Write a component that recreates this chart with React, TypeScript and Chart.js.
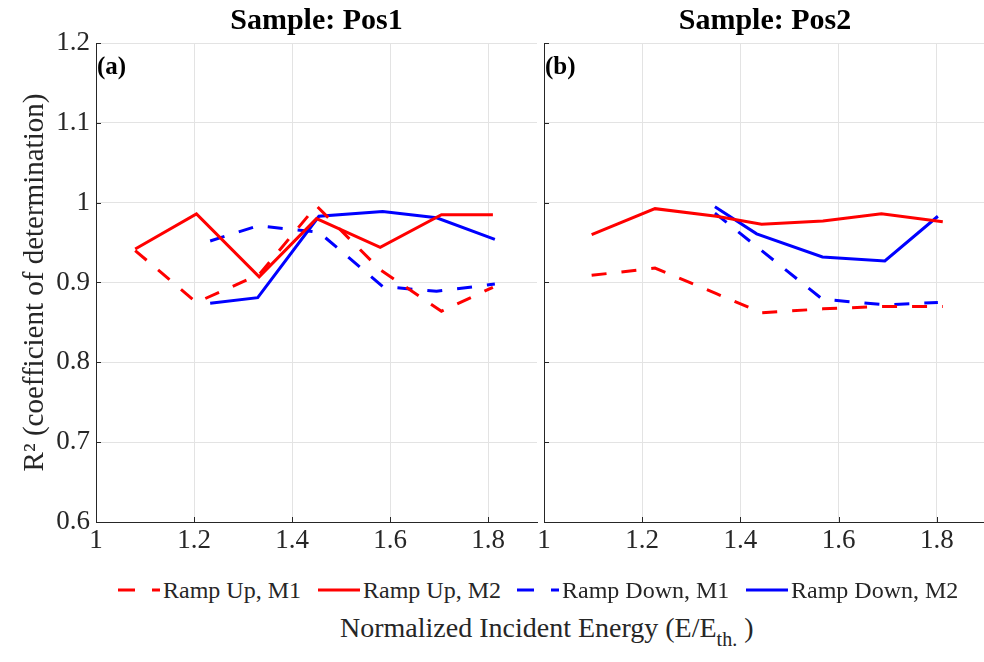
import React, { useEffect, useRef } from 'react';
import { Chart, registerables } from 'chart.js';

Chart.register(...registerables);

const FONT = '"Liberation Serif", "Times New Roman", Times, serif';

// ---- axes ----
const xTicks = [1, 1.2, 1.4, 1.6, 1.8];
const xTickLabels = ['1', '1.2', '1.4', '1.6', '1.8'];
const yTicks = [0.6, 0.7, 0.8, 0.9, 1, 1.1, 1.2];
const yTickLabels = ['0.6', '0.7', '0.8', '0.9', '1', '1.1', '1.2'];
const X_MIN = 1;
const X_MAX = 1.9;
const Y_MIN = 0.6;
const Y_MAX = 1.2;

// ---- text ----
const panelTitles = ['Sample: Pos1', 'Sample: Pos2'];
const panelTags = ['(a)', '(b)'];
const seriesNames = ['Ramp Up, M1', 'Ramp Up, M2', 'Ramp Down, M1', 'Ramp Down, M2'];
const seriesColors = ['#ff0000', '#ff0000', '#0000ff', '#0000ff'];
const seriesDashed = [true, false, true, false];
const yAxisTitle = 'R\u00B2 (coefficient of determination)';
const xAxisTitleMain = 'Normalized Incident Energy (E/E';
const xAxisTitleSub = 'th.';
const xAxisTitleEnd = ' )';

// ---- data: Sample Pos1 ----
const pos1UpX = [1.08, 1.205, 1.333, 1.45, 1.58, 1.705, 1.81];
const pos1UpM1 = [0.94, 0.875, 0.91, 0.996, 0.916, 0.864, 0.894];
const pos1UpM2 = [0.942, 0.986, 0.907, 0.98, 0.944, 0.985, 0.985];
const pos1DownX = [1.233, 1.33, 1.455, 1.585, 1.695, 1.814];
const pos1DownM1 = [0.952, 0.971, 0.963, 0.895, 0.889, 0.898];
const pos1DownM2 = [0.874, 0.881, 0.983, 0.989, 0.981, 0.954];

// ---- data: Sample Pos2 ----
const pos2UpX = [1.097, 1.226, 1.351, 1.443, 1.568, 1.687, 1.812];
const pos2UpM1 = [0.909, 0.918, 0.886, 0.862, 0.867, 0.87, 0.87];
const pos2UpM2 = [0.96, 0.9925, 0.983, 0.973, 0.977, 0.986, 0.976];
const pos2DownX = [1.348, 1.433, 1.567, 1.694, 1.802];
const pos2DownM1 = [0.987, 0.945, 0.879, 0.872, 0.875];
const pos2DownM2 = [0.995, 0.961, 0.932, 0.927, 0.983];

const panelSeries = [
  [
    [pos1UpX, pos1UpM1],
    [pos1UpX, pos1UpM2],
    [pos1DownX, pos1DownM1],
    [pos1DownX, pos1DownM2],
  ],
  [
    [pos2UpX, pos2UpM1],
    [pos2UpX, pos2UpM2],
    [pos2DownX, pos2DownM1],
    [pos2DownX, pos2DownM2],
  ],
];

const AXIS_COLOR = '#262626';
const GRID_COLOR = '#e3e3e3';
const DASH = [15, 15];

const decorPlugin = {
  id: 'decor',
  beforeDatasetsDraw(chart: any) {
    const { ctx, chartArea, scales } = chart;
    ctx.save();
    ctx.strokeStyle = AXIS_COLOR;
    ctx.lineWidth = 1;
    ctx.beginPath();
    xTicks.forEach((v) => {
      const px = Math.round(scales.x.getPixelForValue(v)) + 0.5;
      ctx.moveTo(px, chartArea.bottom);
      ctx.lineTo(px, chartArea.bottom - 5);
    });
    yTicks.forEach((v) => {
      const py = Math.round(scales.y.getPixelForValue(v)) + 0.5;
      ctx.moveTo(chartArea.left, py);
      ctx.lineTo(chartArea.left + 5, py);
    });
    ctx.stroke();
    ctx.restore();
  },
  afterDraw(chart: any, _args: any, opts: any) {
    const { ctx, chartArea } = chart;
    ctx.save();
    ctx.fillStyle = '#000';
    ctx.font = `bold 30px ${FONT}`;
    ctx.textAlign = 'center';
    ctx.textBaseline = 'alphabetic';
    ctx.fillText(opts.title, (chartArea.left + chartArea.right) / 2, 29);
    ctx.font = `bold 25px ${FONT}`;
    ctx.textAlign = 'left';
    ctx.fillText(opts.tag, chartArea.left + 1, chartArea.top + 31);
    ctx.restore();
  },
};

function makeConfig(panel: number, yAxisWidth: number, paddingRight: number, showYLabels: boolean): any {
  const datasets = panelSeries[panel].map(([xs, ys], i) => ({
    label: seriesNames[i],
    data: xs.map((x, j) => ({ x, y: ys[j] })),
    borderColor: seriesColors[i],
    backgroundColor: seriesColors[i],
    borderWidth: 3,
    borderDash: seriesDashed[i] ? DASH : [],
    pointRadius: 0,
    tension: 0,
    fill: false,
  }));
  return {
    type: 'line',
    data: { datasets },
    plugins: [decorPlugin],
    options: {
      animation: false,
      responsive: false,
      devicePixelRatio: 1,
      layout: { padding: { top: 43, right: paddingRight, left: 0, bottom: 0 } },
      plugins: {
        legend: { display: false },
        tooltip: { enabled: false },
        decor: { title: panelTitles[panel], tag: panelTags[panel] },
      },
      scales: {
        x: {
          type: 'linear',
          min: X_MIN,
          max: X_MAX,
          afterBuildTicks: (scale: any) => {
            scale.ticks = xTicks.map((v) => ({ value: v }));
          },
          afterFit: (scale: any) => {
            scale.height = 38;
          },
          ticks: {
            callback: (v: number) => {
              const i = xTicks.findIndex((t) => Math.abs(t - v) < 1e-6);
              return i >= 0 ? xTickLabels[i] : '';
            },
            font: { family: FONT, size: 27 },
            color: AXIS_COLOR,
            padding: 3,
            maxRotation: 0,
            autoSkip: false,
          },
          grid: { color: GRID_COLOR, drawTicks: false },
          border: { color: AXIS_COLOR, width: 1 },
        },
        y: {
          type: 'linear',
          min: Y_MIN,
          max: Y_MAX,
          afterBuildTicks: (scale: any) => {
            scale.ticks = yTicks.map((v) => ({ value: v }));
          },
          afterFit: (scale: any) => {
            scale.width = yAxisWidth;
          },
          ticks: {
            display: showYLabels,
            callback: (v: number) => {
              const i = yTicks.findIndex((t) => Math.abs(t - v) < 1e-6);
              return i >= 0 ? yTickLabels[i] : '';
            },
            font: { family: FONT, size: 27 },
            color: AXIS_COLOR,
            padding: 6,
            autoSkip: false,
          },
          title: {
            display: showYLabels,
            text: yAxisTitle,
            font: { family: FONT, size: 29 },
            color: AXIS_COLOR,
            padding: { top: 18, bottom: 0 },
          },
          grid: { color: GRID_COLOR, drawTicks: false },
          border: { color: AXIS_COLOR, width: 1 },
        },
      },
    },
  };
}

function Swatch({ color, dashed }: { color: string; dashed: boolean }) {
  return (
    <svg width={42} height={10} style={{ display: 'block', flex: 'none' }}>
      <line
        x1={0}
        y1={5}
        x2={42}
        y2={5}
        stroke={color}
        strokeWidth={3}
        strokeDasharray={dashed ? '17 17' : undefined}
      />
    </svg>
  );
}

const legendLefts = [118, 318, 517, 746];

export default function App() {
  const leftRef = useRef<HTMLCanvasElement>(null);
  const rightRef = useRef<HTMLCanvasElement>(null);

  useEffect(() => {
    const c1 = new Chart(leftRef.current as HTMLCanvasElement, makeConfig(0, 96, 4, true));
    const c2 = new Chart(rightRef.current as HTMLCanvasElement, makeConfig(1, 10, 0, false));
    return () => {
      c1.destroy();
      c2.destroy();
    };
  }, []);

  return (
    <div
      style={{
        position: 'fixed',
        left: 0,
        top: 0,
        width: 984,
        height: 662,
        overflow: 'hidden',
        background: '#fff',
        fontFamily: FONT,
      }}
    >
      <canvas ref={leftRef} width={541} height={560} style={{ position: 'absolute', left: 0, top: 0 }} />
      <canvas ref={rightRef} width={452} height={560} style={{ position: 'absolute', left: 534, top: 0 }} />
      {seriesNames.map((name, i) => (
        <div
          key={name}
          style={{
            position: 'absolute',
            left: legendLefts[i],
            top: 574,
            height: 32,
            display: 'flex',
            alignItems: 'center',
            whiteSpace: 'nowrap',
            fontSize: 24,
            color: AXIS_COLOR,
          }}
        >
          <Swatch color={seriesColors[i]} dashed={seriesDashed[i]} />
          <span style={{ marginLeft: 3 }}>{name}</span>
        </div>
      ))}
      <div
        style={{
          position: 'absolute',
          left: 340,
          top: 612,
          fontSize: 28,
          whiteSpace: 'nowrap',
          color: AXIS_COLOR,
          lineHeight: '32px',
        }}
      >
        {xAxisTitleMain}
        <span style={{ fontSize: 20, position: 'relative', top: 9, lineHeight: 0 }}>{xAxisTitleSub}</span>
        {xAxisTitleEnd}
      </div>
    </div>
  );
}
